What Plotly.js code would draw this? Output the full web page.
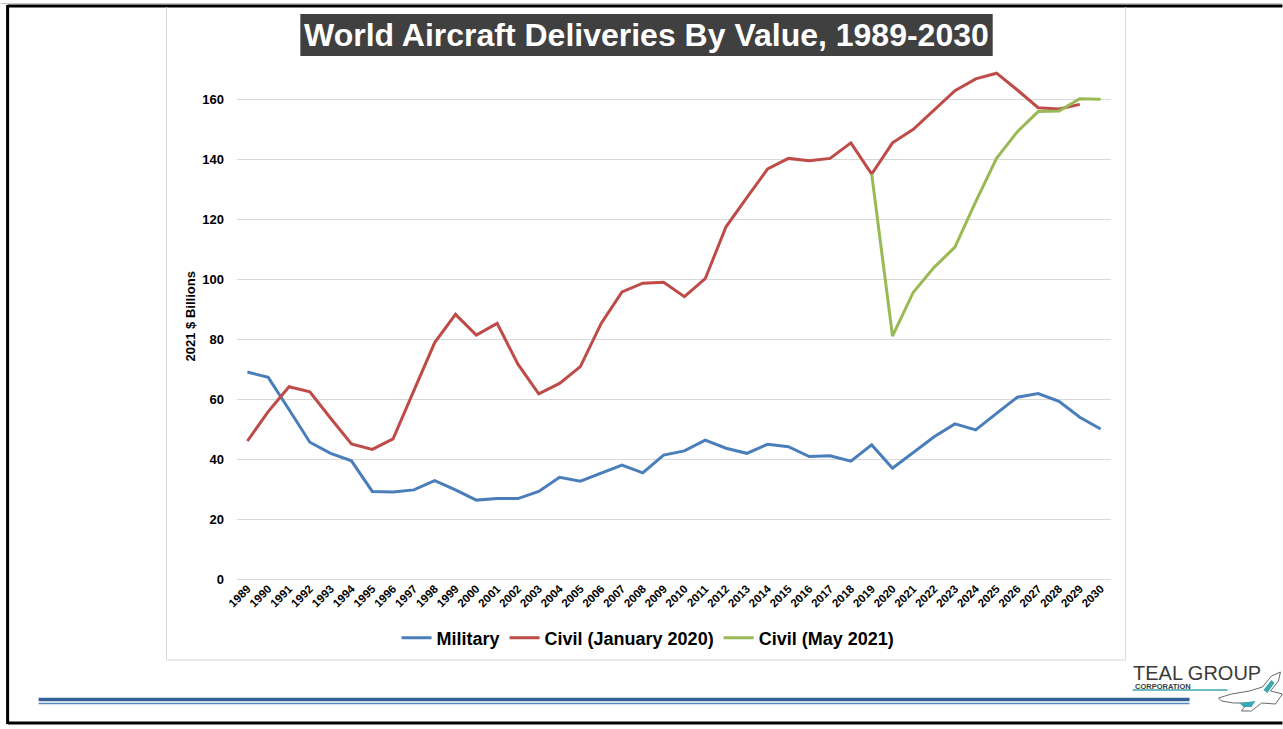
<!DOCTYPE html>
<html>
<head>
<meta charset="utf-8">
<script src="https://cdn.plot.ly/plotly-3.0.1.min.js"></script>
<style>
html,body{margin:0;padding:0;background:#fff;}
#chart{width:1283px;height:729px;}
</style>
</head>
<body>
<div id="chart"></div>
<script>
// ---- data ----
const years = ["1989","1990","1991","1992","1993","1994","1995","1996","1997","1998","1999","2000","2001","2002","2003","2004","2005","2006","2007","2008","2009","2010","2011","2012","2013","2014","2015","2016","2017","2018","2019","2020","2021","2022","2023","2024","2025","2026","2027","2028","2029","2030"];
const military = [69, 67.2, 56.5, 45.6, 41.9, 39.4, 29.2, 29, 29.7, 32.8, 29.7, 26.3, 26.8, 26.8, 29.2, 33.9, 32.6, 35.2, 38, 35.4, 41.3, 42.7, 46.3, 43.6, 41.9, 44.9, 44.1, 40.8, 41.1, 39.3, 44.7, 36.9, 42.1, 47.4, 51.7, 49.7, 55.2, 60.6, 61.8, 59.2, 53.9, 50];
const civilJan2020 = [46, 55.8, 64.1, 62.4, 53.6, 45, 43.2, 46.7, 62.8, 78.8, 88.2, 81.3, 85.2, 71.6, 61.7, 65.2, 70.8, 85.2, 95.7, 98.6, 98.9, 94.1, 100.1, 117.4, 127.1, 136.7, 140.2, 139.4, 140.2, 145.4, 135, 145.4, 149.9, 156.3, 162.8, 166.7, 168.6, 163, 157.1, 156.7, 158.2, null];
const civilMay2021 = [null, null, null, null, null, null, null, null, null, null, null, null, null, null, null, null, null, null, null, null, null, null, null, null, null, null, null, null, null, null, 135, 81, 95.6, 103.9, 110.6, 125.8, 140.2, 149.1, 155.8, 156, 160.1, 159.9];
const seriesNames = ["Military", "Civil (January 2020)", "Civil (May 2021)"];
const yTicks = [0, 20, 40, 60, 80, 100, 120, 140, 160];
const titleText = "World Aircraft Deliveries By Value, 1989-2030";
const yTitle = "2021 $ Billions";

// ---- layout geometry ----
const W = 1283, H = 729;
const M = {l: 236.6, r: W - 1111.4, t: 69, b: H - 579};
const PW = W - M.l - M.r, PH = H - M.t - M.b;
const fx = px => (px - M.l) / PW;
const fy = py => (H - M.b - py) / PH;

const FONT = "Liberation Sans, Arial, sans-serif";

const traces = [
  {x: years, y: military, name: seriesNames[0], type: "scatter", mode: "lines",
   line: {color: "#4A7EBB", width: 3}},
  {x: years, y: civilJan2020, name: seriesNames[1], type: "scatter", mode: "lines",
   line: {color: "#BE4B48", width: 3}},
  {x: years, y: civilMay2021, name: seriesNames[2], type: "scatter", mode: "lines",
   line: {color: "#98B954", width: 3}}
];

function line(x0, y0, x1, y1, color, width) {
  return {type: "line", xref: "paper", yref: "paper", x0: fx(x0), y0: fy(y0), x1: fx(x1), y1: fy(y1),
          line: {color: color, width: width}, layer: "below"};
}

const birdPath = (pts) => "M " + pts.map(p => fx(p[0]) + "," + fy(p[1])).join(" L ") + " Z";

const shapes = [
  // outer frame
  line(0, 3.5, 1283, 3.5, "#c8c8c8", 1),
  line(7, 6, 1283, 6, "#000", 3),
  line(7, 5, 7, 724, "#000", 3),
  line(7, 723, 1283, 723, "#000", 3),
  // chart area border
  line(166, 7, 166, 660, "#d9d9d9", 1),
  line(1126, 7, 1126, 660, "#d9d9d9", 1),
  line(166, 660, 1126, 660, "#d9d9d9", 1),
  // blue footer lines
  line(38, 699.5, 1190, 699.5, "#34609C", 3.5),
  line(38, 703.5, 1190, 703.5, "#5B87C0", 1.5),
  // title box
  {type: "rect", xref: "paper", yref: "paper", x0: fx(300), x1: fx(993), y0: fy(14), y1: fy(56),
   fillcolor: "#404040", line: {width: 0}},
  // logo underline
  line(1133, 690, 1228, 690, "#3BA8B0", 1.5),
  // bird
  {type: "path", xref: "paper", yref: "paper",
   path: birdPath([[1219,698],[1232,694],[1250,691],[1263,687],[1272,676],[1281,672],[1279,681],[1271,691],[1283,694],[1276,704],[1262,703],[1252,711],[1242,711],[1248,703],[1234,703],[1222,701]]),
   fillcolor: "#ffffff", line: {color: "#6a6a6a", width: 1}},
  {type: "path", xref: "paper", yref: "paper",
   path: birdPath([[1264,690],[1272,680],[1275,683],[1268,693]]),
   fillcolor: "#3BA8B0", line: {width: 0}},
  {type: "path", xref: "paper", yref: "paper",
   path: birdPath([[1240,703],[1256,701],[1252,707],[1244,707]]),
   fillcolor: "#3BA8B0", line: {width: 0}}
];

const annotations = [
  {text: titleText, xref: "paper", yref: "paper", x: fx(646.5), y: fy(35), xanchor: "center", yanchor: "middle",
   showarrow: false, font: {family: FONT, size: 32, color: "#ffffff", weight: "bold"}},
  {text: yTitle, xref: "paper", yref: "paper", x: fx(190), y: fy(316), xanchor: "center", yanchor: "middle",
   textangle: -90, showarrow: false, font: {family: FONT, size: 13, color: "#000", weight: "bold"}},
  {text: "TEAL GROUP", xref: "paper", yref: "paper", x: fx(1131), y: fy(673), xanchor: "left", yanchor: "middle",
   showarrow: false, font: {family: FONT, size: 20, color: "#3a3a3a"}},
  {text: "CORPORATION", xref: "paper", yref: "paper", x: fx(1133), y: fy(686), xanchor: "left", yanchor: "middle",
   showarrow: false, font: {family: FONT, size: 7.5, color: "#3a3a3a", weight: "bold"}}
];

const layout = {
  width: W, height: H,
  margin: M,
  paper_bgcolor: "#ffffff", plot_bgcolor: "#ffffff",
  showlegend: true,
  legend: {orientation: "h", x: fx(648), xanchor: "center", y: fy(638), yanchor: "middle",
           font: {family: FONT, size: 18, color: "#000", weight: "bold"}, bgcolor: "rgba(0,0,0,0)",
           itemwidth: 30, tracegroupgap: 0},
  xaxis: {type: "category", range: [-0.5, years.length - 0.5], tickangle: -45,
          tickfont: {family: FONT, size: 11.5, color: "#000", weight: "bold"},
          showgrid: false, showline: false, zeroline: false, ticks: "", fixedrange: true},
  yaxis: {range: [0, 170], tickvals: yTicks, ticktext: yTicks.map(String),
          tickfont: {family: FONT, size: 13, color: "#000", weight: "bold"},
          showgrid: true, gridcolor: "#d9d9d9", gridwidth: 1, zeroline: true, zerolinecolor: "#d9d9d9", zerolinewidth: 1,
          showline: false, ticks: "", ticklabelstandoff: 12, fixedrange: true},
  shapes: shapes,
  annotations: annotations
};

Plotly.newPlot("chart", traces, layout, {displayModeBar: false, staticPlot: true});
</script>
</body>
</html>
